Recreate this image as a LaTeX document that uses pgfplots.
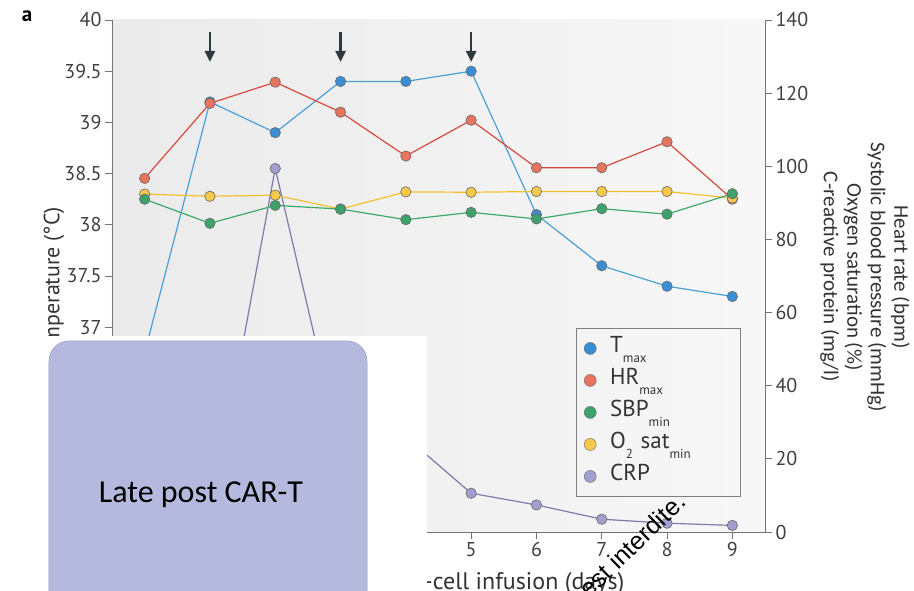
\documentclass[border=0pt]{standalone}
\usepackage{pgfplots}
\pgfplotsset{compat=1.18}
\usepackage{fontspec}
\setmainfont{PT Sans}
\newfontfamily\calfont{Carlito}
\newfontfamily\arialfont{Liberation Sans}
\usetikzlibrary{arrows.meta}
\definecolor{tline}{HTML}{4AA0D5}
\definecolor{tfill}{HTML}{3B8ED3}
\definecolor{hline}{HTML}{D64B3E}
\definecolor{hfill}{HTML}{E8745F}
\definecolor{sline}{HTML}{3DAA6A}
\definecolor{sfill}{HTML}{3DA36A}
\definecolor{oline}{HTML}{F2C12E}
\definecolor{ofill}{HTML}{F6C94A}
\definecolor{cline}{HTML}{7C7BAA}
\definecolor{cfill}{HTML}{A09FD0}
\definecolor{arrc}{HTML}{2F3A3F}
\definecolor{boxc}{HTML}{B5B9DD}
\newcommand{\sub}[1]{\raisebox{-0.42em}{\fontsize{13bp}{13bp}\selectfont #1}}
\pgfplotsset{
  mk/.style={line width=1.2bp, mark=*, mark size=5.2bp, mark options={fill=#1, draw=black!60, line width=0.6bp}},
  common/.style={scale only axis, width=653bp, height=512bp, xmin=-0.5, xmax=9.5,
    tick align=outside, major tick length=7bp,
    axis line style={black!55, line width=0.8bp},
    tick style={black!55, line width=0.8bp},
    ticklabel style={font=\fontsize{20bp}{20bp}\selectfont, text=black!75},
    /pgf/number format/assume math mode=true, clip=false}
}
\begin{document}
\begin{tikzpicture}
\useasboundingbox (-112bp,-59bp) rectangle (802bp,532bp);
\fill[white] (-112bp,-59bp) rectangle (802bp,532bp);
\begin{axis}[common, ymin=35, ymax=40,
  axis y line*=left, axis x line*=bottom,
  xtick={0,1,2,3,4,5,6,7,8,9}, ytick={35,35.5,36,36.5,37,37.5,38,38.5,39,39.5,40},
  axis background/.style={left color=black!8, right color=black!3}]
\addplot[tline, mk=tfill] coordinates {(0,36.75) (1,39.2) (2,38.9) (3,39.4) (4,39.4) (5,39.5) (6,38.1) (7,37.6) (8,37.4) (9,37.3)};
\draw[-{Triangle[width=10bp,length=11bp]}, line width=2.4bp, arrc] (axis cs:1,39.88) -- (axis cs:1,39.59);
\draw[-{Triangle[width=10bp,length=11bp]}, line width=2.4bp, arrc] (axis cs:3,39.88) -- (axis cs:3,39.59);
\draw[-{Triangle[width=10bp,length=11bp]}, line width=2.4bp, arrc] (axis cs:5,39.88) -- (axis cs:5,39.59);
\end{axis}
\begin{axis}[common, ymin=0, ymax=140,
  axis y line*=right, axis x line=none,
  ytick={0,20,40,60,80,100,120,140},
  legend style={at={(rel axis cs:0.7106,0.398)}, anchor=north west, draw=black!50, fill=none,
    font=\fontsize{23bp}{23bp}\selectfont, row sep=4bp, column sep=12bp, inner xsep=8bp, inner ysep=6bp,
    nodes={text width=120bp, align=left, text height=16bp, text depth=8bp, inner sep=2bp, text=black!80}},
  legend cell align=left]
\addlegendimage{only marks, mark=*, mark size=6bp, mark options={fill=tfill, draw=black!60}}
\addlegendentry{T\sub{max}}
\addlegendimage{only marks, mark=*, mark size=6bp, mark options={fill=hfill, draw=black!60}}
\addlegendentry{HR\sub{max}}
\addlegendimage{only marks, mark=*, mark size=6bp, mark options={fill=sfill, draw=black!60}}
\addlegendentry{SBP\sub{min}}
\addlegendimage{only marks, mark=*, mark size=6bp, mark options={fill=ofill, draw=black!60}}
\addlegendentry{O\sub{2} sat\sub{min}}
\addlegendimage{only marks, mark=*, mark size=6bp, mark options={fill=cfill, draw=black!60}}
\addlegendentry{CRP}
\addplot[cline, mk=cfill, forget plot] coordinates {(0,2) (1,3) (2,99.4) (3,23) (4,26) (5,10.6) (6,7.4) (7,3.5) (8,2.4) (9,1.8)};
\addplot[hline, mk=hfill, forget plot] coordinates {(0,96.7) (1,117.2) (2,123.0) (3,114.8) (4,102.8) (5,112.6) (6,99.6) (7,99.6) (8,106.7) (9,91.0)};
\addplot[oline, mk=ofill, forget plot] coordinates {(0,92.4) (1,91.8) (2,92.1) (3,88.3) (4,93.0) (5,92.9) (6,93.1) (7,93.1) (8,93.1) (9,91.3)};
\addplot[sline, mk=sfill, forget plot] coordinates {(0,91.0) (1,84.4) (2,89.3) (3,88.3) (4,85.4) (5,87.4) (6,85.6) (7,88.4) (8,86.9) (9,92.5)};
\end{axis}
% labels
\node[font=\bfseries\fontsize{21bp}{21bp}\selectfont, anchor=base] at (-85bp,510bp) {a};
\node[rotate=90, font=\fontsize{22bp}{22bp}\selectfont, text=black!80] at (-58bp,246bp) {Temperature (°C)};
\node[rotate=-90, align=center, font=\calfont\fontsize{21bp}{23.5bp}\selectfont, text=black!80] at (753bp,255bp) {Heart rate (bpm)\\Systolic blood pressure (mmHg)\\Oxygen saturation (\%)\\C-reactive protein (mg/l)};
\node[anchor=base east, font=\fontsize{24bp}{24bp}\selectfont, text=black!80, inner sep=0pt] at (312bp,-57bp) {Time after CAR-T};
\node[anchor=base west, font=\fontsize{24bp}{24bp}\selectfont, text=black!80, inner sep=0pt] at (312bp,-57bp) {-cell infusion (days)};
% overlay
\fill[white] (-120bp,-80bp) rectangle (315bp,196bp);
\fill[boxc, draw=boxc!85!black, line width=0.5bp, rounded corners=20bp] (-63bp,-110bp) rectangle (255bp,191bp);
\node[font=\calfont\fontsize{32bp}{32bp}\selectfont, anchor=base] at (89bp,30bp) {Late post CAR-T};
\node[rotate=44, anchor=base east, font=\arialfont\fontsize{25bp}{25bp}\selectfont, inner sep=0pt] at (576bp,28bp) {est interdite.};
\end{tikzpicture}
\end{document}
